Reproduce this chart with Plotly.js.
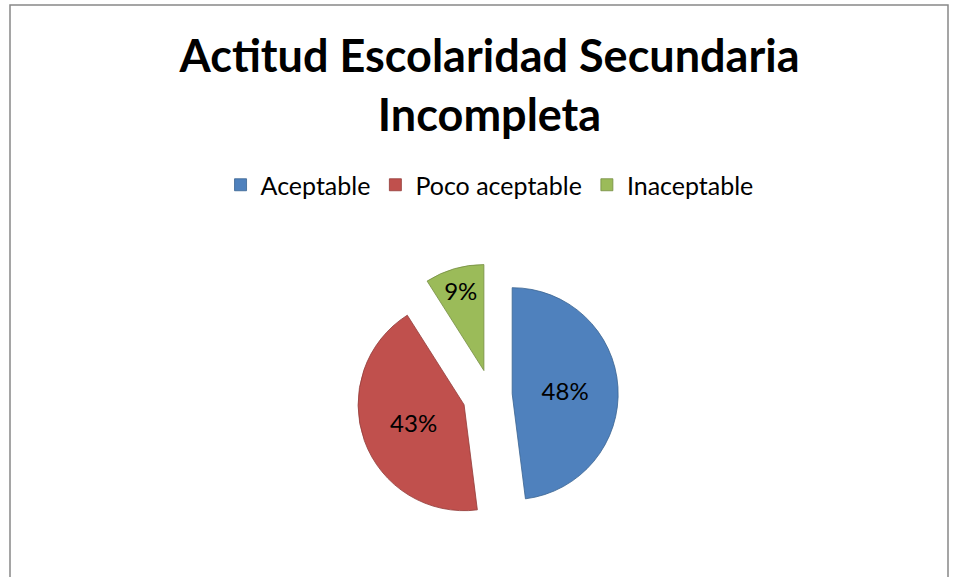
<!DOCTYPE html>
<html>
<head>
<meta charset="utf-8">
<script src="https://cdn.plot.ly/plotly-3.0.1.min.js"></script>
<style>html,body{margin:0;padding:0;background:#fff;}#chart{width:958px;height:577px;}</style>
</head>
<body>
<div id="chart"></div>
<script>
const categories = ["Aceptable", "Poco aceptable", "Inaceptable"];
const values = [48, 43, 9];
const colors = ["#4F81BD", "#C0504D", "#9BBB59"];
const edgeColors = ["#3A6390", "#923B39", "#738C41"];
const pulls = [0.2, 0.27, 0.24];

const W = 958, H = 577;
const cx = 491, cy = 395, r = 106;
const half = r * (1 + Math.max(...pulls));

const trace = {
  type: "pie",
  labels: categories,
  values: values,
  sort: false,
  direction: "clockwise",
  rotation: 0,
  pull: pulls,
  marker: {colors: colors, line: {width: 0.8, color: edgeColors}},
  textinfo: "percent",
  textposition: "inside",
  insidetextorientation: "horizontal",
  textfont: {family: "Lato, 'Open Sans', sans-serif", size: 24, color: "#000"},
  domain: {
    x: [(cx - half) / W, (cx + half) / W],
    y: [(H - cy - half) / H, (H - cy + half) / H]
  },
  hoverinfo: "label+percent"
};

const layout = {
  width: W, height: H,
  margin: {l: 0, r: 0, t: 0, b: 0},
  paper_bgcolor: "#fff",
  showlegend: true,
  title: {
    text: "<b>Actitud Escolaridad Secundaria<br>Incompleta</b>",
    font: {family: "Lato, 'Open Sans', sans-serif", size: 45, color: "#000"},
    x: 0.511, xanchor: "center",
    y: 1 - 72 / H, yanchor: "top"
  },
  legend: {
    orientation: "h",
    x: 0.511, xanchor: "center",
    y: 1 - 162 / H, yanchor: "top",
    itemgap: 31,
    font: {family: "Lato, 'Open Sans', sans-serif", size: 25, color: "#000"},
    traceorder: "normal"
  },
  shapes: [{
    type: "rect", xref: "paper", yref: "paper",
    x0: 10 / W, x1: 948 / W, y0: -0.05, y1: 1 - 5 / H,
    line: {color: "#888", width: 1.5}, fillcolor: "rgba(0,0,0,0)", layer: "below"
  }]
};

Plotly.newPlot("chart", [trace], layout, {displayModeBar: false, staticPlot: true});
</script>
</body>
</html>
